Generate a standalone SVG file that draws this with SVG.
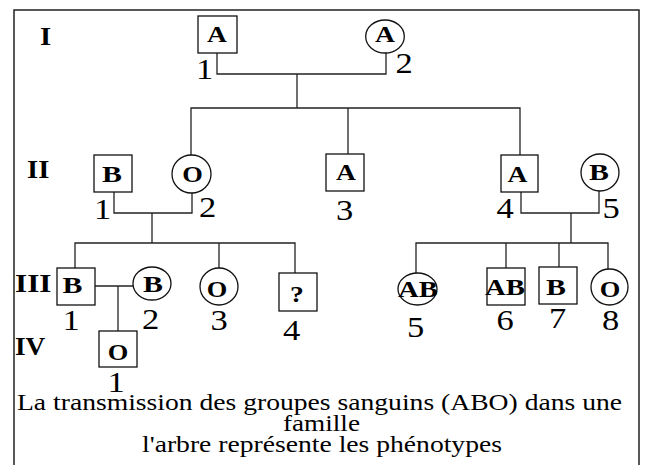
<svg xmlns="http://www.w3.org/2000/svg" width="646" height="465" viewBox="0 0 646 465">
<style>
.frame{fill:none;stroke:#222;stroke-width:1.5}
.shape{fill:#fff;stroke:#111;stroke-width:1.3}
.con{fill:none;stroke:#222;stroke-width:1.3}
.lbl{font-family:'Liberation Serif','DejaVu Serif',serif;font-weight:bold;font-size:23px;text-anchor:middle;fill:#000}
.num{font-family:'Liberation Serif','DejaVu Serif',serif;font-size:30px;text-anchor:middle;fill:#000}
.gen{font-family:'Liberation Serif','DejaVu Serif',serif;font-weight:bold;font-size:26px;fill:#000}
.cap{font-family:'Liberation Serif','DejaVu Serif',serif;font-size:23px;fill:#000}
</style>
<rect width="646" height="465" fill="#fff"/>
<path class="frame" d="M14,465 V10 H639 V465"/>

<g id="generations">
<text class="gen" transform="translate(40,45) scale(1.1,1)">I</text>
<text class="gen" transform="translate(27,178) scale(1.1,1)">II</text>
<text class="gen" transform="translate(15,292) scale(1.2,1)">III</text>
<text class="gen" transform="translate(15,355) scale(1.05,1)">IV</text>
</g>

<g id="connectors">
<path class="con" d="M217,53 V74 H386 V53"/>
<path class="con" d="M297,74 V108"/>
<path class="con" d="M191,155 V108 H520 V155"/>
<path class="con" d="M348,108 V154"/>
<path class="con" d="M114,192 V213 H192 V193"/>
<path class="con" d="M152,213 V243"/>
<path class="con" d="M75,268 V243 H295 V273"/>
<path class="con" d="M219,243 V268"/>
<path class="con" d="M95,286 H133"/>
<path class="con" d="M118,286 V331"/>
<path class="con" d="M521,192 V213 H599 V191"/>
<path class="con" d="M571,213 V243"/>
<path class="con" d="M416,273 V243 H608 V269"/>
<path class="con" d="M506,243 V268"/>
<path class="con" d="M559,243 V267"/>
</g>

<g id="I-1">
<rect class="shape" x="198" y="16" width="39" height="37"/>
<text class="lbl" transform="translate(217,42) scale(1.2,1)">A</text>
<text class="num" transform="translate(204.5,79) scale(1.15,1)">1</text>
</g>
<g id="I-2">
<ellipse class="shape" cx="385" cy="36.5" rx="19.3" ry="16.5"/>
<text class="lbl" transform="translate(385,42) scale(1.2,1)">A</text>
<text class="num" transform="translate(404,73) scale(1.15,1)">2</text>
</g>

<g id="II-1">
<rect class="shape" x="94" y="155" width="38" height="37"/>
<text class="lbl" transform="translate(112,182) scale(1.3,1)">B</text>
<text class="num" transform="translate(102.5,219) scale(1.15,1)">1</text>
</g>
<g id="II-2">
<ellipse class="shape" cx="191.5" cy="174" rx="19.5" ry="19"/>
<text class="lbl" transform="translate(192.5,182) scale(1.15,1)">O</text>
<text class="num" transform="translate(207.5,217) scale(1.15,1)">2</text>
</g>
<g id="II-3">
<rect class="shape" x="326" y="154" width="38" height="37"/>
<text class="lbl" transform="translate(346,180) scale(1.2,1)">A</text>
<text class="num" transform="translate(344.5,220) scale(1.15,1)">3</text>
</g>
<g id="II-4">
<rect class="shape" x="501" y="155" width="37" height="37"/>
<text class="lbl" transform="translate(517.5,182) scale(1.2,1)">A</text>
<text class="num" transform="translate(505,218) scale(1.15,1)">4</text>
</g>
<g id="II-5">
<ellipse class="shape" cx="600" cy="172.5" rx="19" ry="18.5"/>
<text class="lbl" transform="translate(599,180) scale(1.3,1)">B</text>
<text class="num" transform="translate(611,218) scale(1.15,1)">5</text>
</g>

<g id="III-1">
<rect class="shape" x="57" y="268" width="38" height="37"/>
<text class="lbl" transform="translate(72.5,293) scale(1.3,1)">B</text>
<text class="num" transform="translate(71,330) scale(1.15,1)">1</text>
</g>
<g id="III-2">
<ellipse class="shape" cx="152" cy="283.5" rx="19" ry="16.5"/>
<text class="lbl" transform="translate(153,292) scale(1.3,1)">B</text>
<text class="num" transform="translate(150.5,329) scale(1.15,1)">2</text>
</g>
<g id="III-3">
<ellipse class="shape" cx="219" cy="286.5" rx="19" ry="18.5"/>
<text class="lbl" transform="translate(217,297) scale(1.15,1)">O</text>
<text class="num" transform="translate(219,330) scale(1.15,1)">3</text>
</g>
<g id="III-4">
<rect class="shape" x="279" y="273" width="38" height="38"/>
<text class="lbl" transform="translate(297,302) scale(1.2,1)">?</text>
<text class="num" transform="translate(291.5,340) scale(1.15,1)">4</text>
</g>
<g id="III-5">
<ellipse class="shape" cx="417.5" cy="289" rx="19.5" ry="16"/>
<text class="lbl" transform="translate(418,297) scale(1.25,1)">AB</text>
<text class="num" transform="translate(415.5,337) scale(1.15,1)">5</text>
</g>
<g id="III-6">
<rect class="shape" x="487" y="268" width="38" height="37"/>
<text class="lbl" transform="translate(505,295) scale(1.25,1)">AB</text>
<text class="num" transform="translate(505,330) scale(1.15,1)">6</text>
</g>
<g id="III-7">
<rect class="shape" x="539" y="267" width="38" height="37"/>
<text class="lbl" transform="translate(556,295) scale(1.3,1)">B</text>
<text class="num" transform="translate(557.5,328) scale(1.15,1)">7</text>
</g>
<g id="III-8">
<ellipse class="shape" cx="609.5" cy="287" rx="18.5" ry="18"/>
<text class="lbl" transform="translate(610,297) scale(1.15,1)">O</text>
<text class="num" transform="translate(610.5,330) scale(1.15,1)">8</text>
</g>

<g id="IV-1">
<rect class="shape" x="99" y="331" width="38" height="36"/>
<text class="lbl" transform="translate(118,360) scale(1.15,1)">O</text>
<text class="num" transform="translate(116,392) scale(1.15,1)">1</text>
</g>

<g id="caption">
<text class="cap" x="17" y="410" textLength="605" lengthAdjust="spacingAndGlyphs">La transmission des groupes sanguins (ABO) dans une</text>
<text class="cap" x="283" y="431" textLength="77" lengthAdjust="spacingAndGlyphs">famille</text>
<text class="cap" x="142" y="452" textLength="360" lengthAdjust="spacingAndGlyphs">l'arbre représente les phénotypes</text>
</g>
</svg>
